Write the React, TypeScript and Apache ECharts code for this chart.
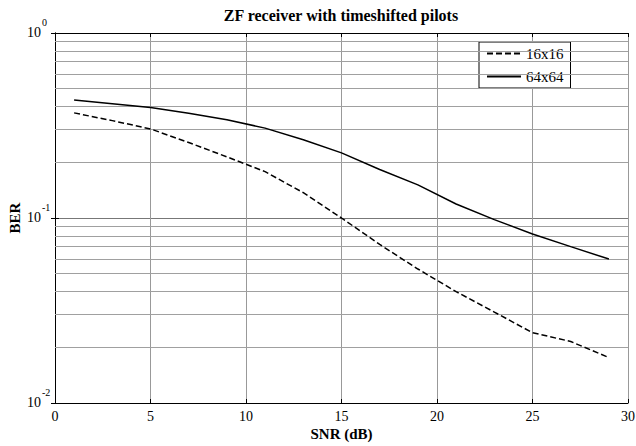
import React, { useEffect, useRef } from "react";
import * as echarts from "echarts";

const snr = [1, 3, 5, 7, 9, 11, 13, 15, 17, 19, 21, 23, 25, 27, 29];
const ber16 = [0.37, 0.336, 0.303, 0.256, 0.214, 0.178, 0.137, 0.1, 0.072, 0.053, 0.04, 0.031, 0.024, 0.0215, 0.0176];
const ber64 = [0.434, 0.415, 0.396, 0.368, 0.34, 0.306, 0.265, 0.225, 0.183, 0.151, 0.119, 0.098, 0.082, 0.07, 0.06];
const seriesNames = ["16x16", "64x64"];
const minorGrid = [0.02, 0.03, 0.04, 0.05, 0.06, 0.07, 0.08, 0.09, 0.2, 0.3, 0.4, 0.5, 0.6, 0.7, 0.8, 0.9];
const titleText = "ZF receiver with timeshifted pilots";
const xName = "SNR (dB)";
const yName = "BER";

const FONT = "'Liberation Serif', 'Times New Roman', serif";

export default function App() {
  const ref = useRef<HTMLDivElement>(null);
  useEffect(() => {
    document.body.style.margin = "0";
    const chart = echarts.init(ref.current!, null, { renderer: "svg" });
    const pair = (ys: number[]) => snr.map((x, i) => [x, ys[i]]);
    chart.setOption({
      animation: false,
      backgroundColor: "#fff",
      textStyle: { fontFamily: FONT, color: "#000" },
      grid: { left: 55, right: 8, top: 33, bottom: 43, show: false, containLabel: false, outerBoundsMode: "none" },
      graphic: [
        {
          type: "text",
          x: 341,
          y: 15,
          style: {
            text: titleText,
            fontFamily: FONT,
            fontSize: 16,
            fontWeight: "bold",
            fill: "#000",
            align: "center",
            verticalAlign: "middle",
          },
        },
      ],
      legend: {
        data: seriesNames,
        orient: "vertical",
        left: 479,
        top: 42,
        itemWidth: 34,
        itemHeight: 14,
        itemGap: 8,
        padding: [4, 7, 4, 7],
        borderColor: "#000",
        borderWidth: 1,
        borderRadius: 0,
        backgroundColor: "#fff",
        itemStyle: { opacity: 0 },
        textStyle: { fontFamily: FONT, fontSize: 15, color: "#000" },
      },
      xAxis: [
        {
          type: "value",
          min: 0,
          max: 30,
          interval: 5,
          position: "bottom",
          name: xName,
          nameLocation: "middle",
          nameGap: 23,
          nameMoveOverlap: false,
          nameTextStyle: { fontFamily: FONT, fontSize: 15, fontWeight: "bold", color: "#000" },
          axisLine: { lineStyle: { color: "#000", width: 1 } },
          axisTick: { inside: true, length: 4, lineStyle: { color: "#000" } },
          axisLabel: { fontFamily: FONT, fontSize: 14, color: "#000", margin: 6 },
          splitLine: { show: true, lineStyle: { color: "#999", width: 1 } },
        },
        {
          type: "value",
          min: 0,
          max: 30,
          interval: 5,
          position: "top",
          axisLine: { lineStyle: { color: "#000", width: 1 } },
          axisTick: { inside: true, length: 4, lineStyle: { color: "#000" } },
          axisLabel: { show: false },
          splitLine: { show: false },
        },
      ],
      yAxis: [
        {
          type: "log",
          logBase: 10,
          min: 0.01,
          max: 1,
          position: "left",
          name: yName,
          nameLocation: "middle",
          nameRotate: 90,
          nameGap: 33,
          nameMoveOverlap: false,
          nameTextStyle: { fontFamily: FONT, fontSize: 15, fontWeight: "bold", color: "#000" },
          axisLine: { show: true, lineStyle: { color: "#000", width: 1 } },
          axisTick: { inside: true, length: 4, lineStyle: { color: "#000" } },
          axisLabel: {
            align: "left",
            margin: 28,
            padding: [0, 0, 4, 0],
            formatter: (v: number) => "{b|10}{s|" + Math.round(Math.log10(v)) + "}",
            rich: {
              b: { fontFamily: FONT, fontSize: 14, lineHeight: 16, color: "#000", verticalAlign: "bottom" },
              s: { fontFamily: FONT, fontSize: 10, lineHeight: 10, color: "#000", verticalAlign: "bottom", padding: [0, 0, 12, 1] },
            },
          },
          splitLine: { show: true, lineStyle: { color: "#777", width: 1 } },
        },
        {
          type: "log",
          logBase: 10,
          min: 0.01,
          max: 1,
          position: "right",
          axisLine: { show: true, lineStyle: { color: "#000", width: 1 } },
          axisTick: { inside: true, length: 4, lineStyle: { color: "#000" } },
          axisLabel: { show: false },
          splitLine: { show: false },
        },
      ],
      series: [
        {
          name: "minor-grid",
          type: "line",
          data: [],
          silent: true,
          z: 1,
          markLine: {
            silent: true,
            symbol: ["none", "none"],
            label: { show: false },
            animation: false,
            lineStyle: { color: "#a0a0a0", type: "solid", width: 1 },
            data: minorGrid.map((v) => ({ yAxis: v })),
          },
        },
        {
          name: seriesNames[0],
          type: "line",
          data: pair(ber16),
          symbol: "none",
          z: 5,
          color: "#000",
          lineStyle: { color: "#000", width: 1.5, type: [6, 3] },
        },
        {
          name: seriesNames[1],
          type: "line",
          data: pair(ber64),
          symbol: "none",
          z: 5,
          color: "#000",
          lineStyle: { color: "#000", width: 1.5, type: "solid" },
        },
      ],
    });
    return () => chart.dispose();
  }, []);
  return <div ref={ref} style={{ width: 636, height: 446 }} />;
}
